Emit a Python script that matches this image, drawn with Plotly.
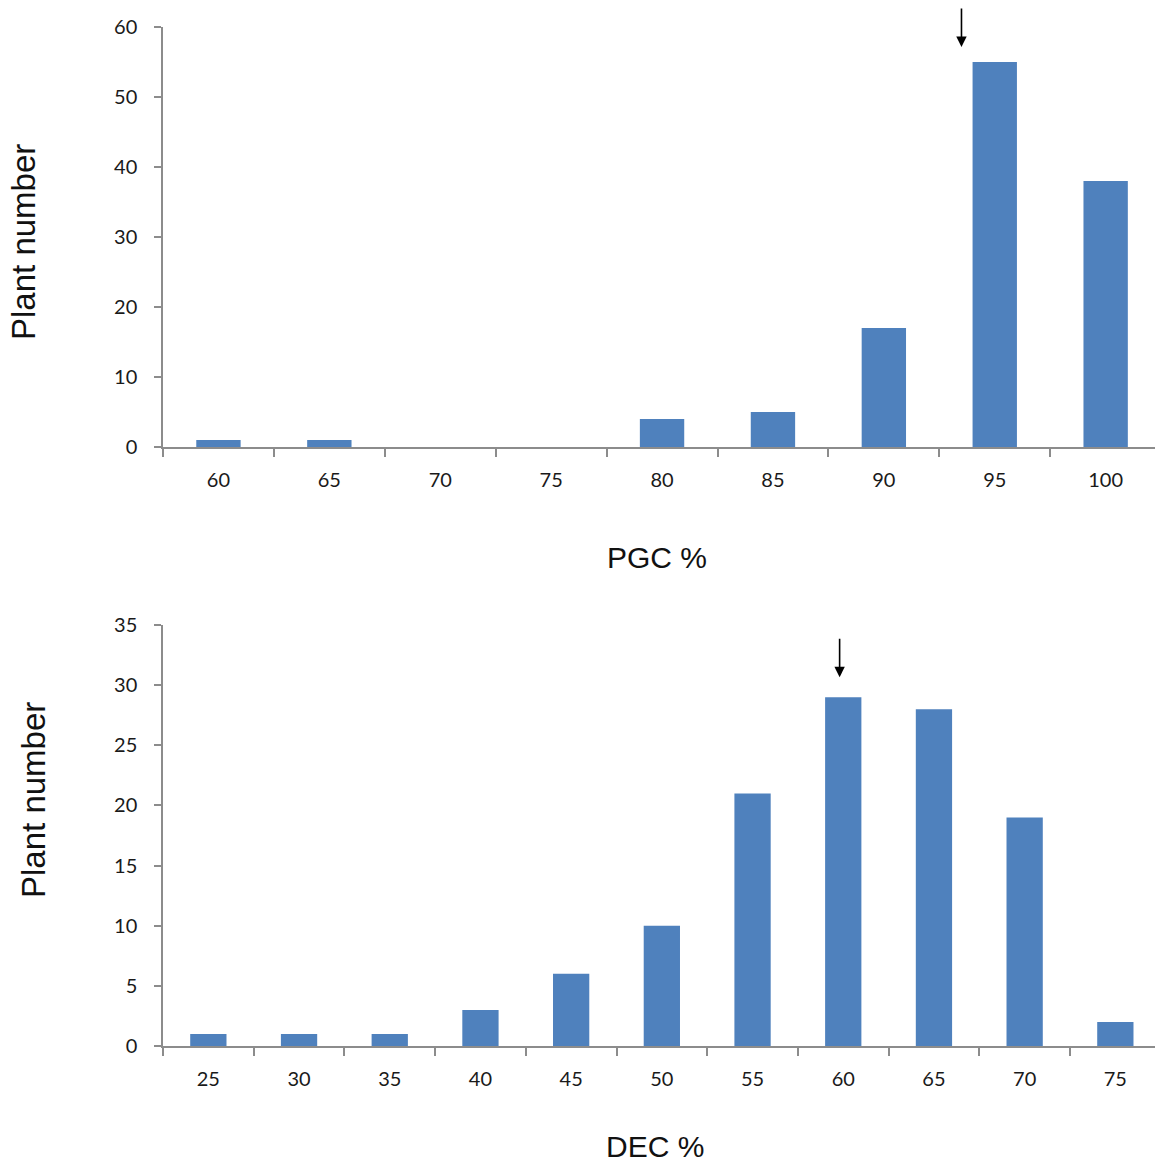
import plotly.graph_objects as go

# ---- data ----
pgc_categories = ["60", "65", "70", "75", "80", "85", "90", "95", "100"]
pgc_counts = [1, 1, 0, 0, 4, 5, 17, 55, 38]

dec_categories = ["25", "30", "35", "40", "45", "50", "55", "60", "65", "70", "75"]
dec_counts = [1, 1, 1, 3, 6, 10, 21, 29, 28, 19, 2]

pgc_yticks = [0, 10, 20, 30, 40, 50, 60]
dec_yticks = [0, 5, 10, 15, 20, 25, 30, 35]

pgc_arrow_cat = "95"
dec_arrow_cat = "60"

W, H = 1155, 1162
BAR = "#4F81BD"
AXIS = "#8C8C8C"
TICKFONT = dict(family="Lato, 'Open Sans', sans-serif", size=20, color="#1a1a1a")
XTITLEFONT = dict(family="'Liberation Sans', Arial, sans-serif", size=30, color="#111111")
YTITLEFONT = dict(family="'Liberation Sans', Arial, sans-serif", size=33, color="#111111")

fig = go.Figure()
fig.add_trace(go.Bar(x=pgc_categories, y=pgc_counts, marker=dict(color=BAR, line=dict(width=0)),
                     xaxis="x", yaxis="y", showlegend=False))
fig.add_trace(go.Bar(x=dec_categories, y=dec_counts, marker=dict(color=BAR, line=dict(width=0)),
                     xaxis="x2", yaxis="y2", showlegend=False))

x0 = 163 / W
top_dom = [1 - 447 / H, 1 - 27 / H]
bot_dom = [1 - 1046 / H, 1 - 625 / H]

common_x = dict(type="category", showline=True, linecolor=AXIS, linewidth=1.5, automargin=False,
                ticks="outside", tickson="boundaries", ticklen=8, tickcolor=AXIS, tickwidth=1.5,
                showgrid=False, zeroline=False, tickfont=TICKFONT, ticklabelstandoff=14)
common_y = dict(showline=True, linecolor=AXIS, linewidth=1.5, ticks="outside", ticklen=7, automargin=False,
                tickcolor=AXIS, tickwidth=1.5, showgrid=False, zeroline=False, tickfont=TICKFONT,
                ticklabelstandoff=13)

fig.update_layout(
    template="none",
    width=W, height=H,
    margin=dict(l=0, r=0, t=0, b=0, pad=0),
    paper_bgcolor="white", plot_bgcolor="white",
    bargap=0.6,
    xaxis=dict(domain=[x0, 1], anchor="y", range=[-0.5, -0.5 + (W - 163) / 110.9], **common_x),
    yaxis=dict(domain=top_dom, anchor="x", range=[0, 60], tickvals=pgc_yticks, **common_y),
    xaxis2=dict(domain=[x0, 1], anchor="y2", range=[-0.5, -0.5 + (W - 163) / 90.7], **common_x),
    yaxis2=dict(domain=bot_dom, anchor="x2", range=[0, 35], tickvals=dec_yticks, **common_y),
)

# axis titles
fig.add_annotation(text="Plant number", xref="paper", yref="paper", x=23 / W, y=1 - 242 / H,
                   textangle=-90, showarrow=False, font=YTITLEFONT, xanchor="center", yanchor="middle")
fig.add_annotation(text="PGC %", xref="paper", yref="paper", x=657 / W, y=1 - 557 / H,
                   showarrow=False, font=XTITLEFONT, xanchor="center", yanchor="middle")
fig.add_annotation(text="Plant number", xref="paper", yref="paper", x=33 / W, y=1 - 800 / H,
                   textangle=-90, showarrow=False, font=YTITLEFONT, xanchor="center", yanchor="middle")
fig.add_annotation(text="DEC %", xref="paper", yref="paper", x=655 / W, y=1 - 1146 / H,
                   showarrow=False, font=XTITLEFONT, xanchor="center", yanchor="middle")

# arrows marking the modal class
pi = pgc_categories.index(pgc_arrow_cat)
fig.add_annotation(x=pi - 0.3, y=pgc_counts[pi], xref="x", yref="y", yshift=15,
                   showarrow=True, ax=0, ay=-40, arrowhead=2, arrowsize=1.3, arrowwidth=1.6,
                   arrowcolor="black", text="")
di = dec_categories.index(dec_arrow_cat)
fig.add_annotation(x=di - 0.04, y=dec_counts[di], xref="x2", yref="y2", yshift=20,
                   showarrow=True, ax=0, ay=-40, arrowhead=2, arrowsize=1.3, arrowwidth=1.6,
                   arrowcolor="black", text="")

fig.write_html("out.html",
               config={"displayModeBar": False},
               post_script="document.body.style.margin='0';document.body.style.padding='0';"
                           "document.documentElement.style.overflow='hidden';")
